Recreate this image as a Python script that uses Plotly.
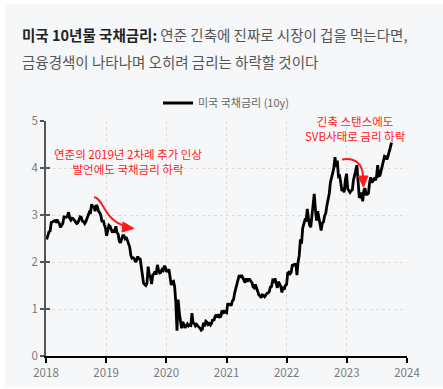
import pandas as pd
import plotly.graph_objects as go

# Weekly (Friday) US 10y Treasury yield, %
y2018 = [2.48, 2.55, 2.64, 2.66, 2.84, 2.85, 2.87, 2.88, 2.86, 2.90, 2.85, 2.82, 2.74,
         2.77, 2.82, 2.96, 2.96, 2.95, 2.97, 3.06, 2.93, 2.89, 2.93, 2.92, 2.89, 2.85,
         2.82, 2.83, 2.89, 2.96, 2.95, 2.87, 2.86, 2.82, 2.86, 2.94, 2.99, 3.06, 3.05,
         3.23, 3.16, 3.19, 3.08, 3.21, 3.18, 3.08, 3.05, 2.99, 2.85, 2.89, 2.79, 2.72]
y2019 = [2.56, 2.70, 2.78, 2.76, 2.69, 2.63, 2.66, 2.65, 2.76, 2.63, 2.59, 2.44, 2.41,
         2.50, 2.56, 2.56, 2.50, 2.53, 2.47, 2.39, 2.32, 2.14, 2.08, 2.09, 2.07, 2.00,
         2.04, 2.12, 2.05, 2.08, 1.86, 1.74, 1.55, 1.52, 1.50, 1.55, 1.90, 1.72, 1.68,
         1.53, 1.73, 1.75, 1.80, 1.73, 1.94, 1.83, 1.77, 1.78, 1.84, 1.82, 1.92, 1.88]
y2020 = [1.79, 1.82, 1.84, 1.68, 1.51, 1.58, 1.59, 1.47, 1.13, 0.54, 1.20, 0.92, 0.68,
         0.59, 0.73, 0.65, 0.60, 0.64, 0.68, 0.64, 0.66, 0.65, 0.91, 0.70, 0.69, 0.64,
         0.67, 0.64, 0.62, 0.59, 0.55, 0.57, 0.71, 0.63, 0.74, 0.72, 0.67, 0.69, 0.66,
         0.70, 0.78, 0.75, 0.84, 0.88, 0.82, 0.89, 0.83, 0.84, 0.97, 0.90, 0.95, 0.94]
y2021 = [0.92, 1.12, 1.09, 1.10, 1.07, 1.17, 1.20, 1.34, 1.46, 1.57, 1.63, 1.72, 1.67,
         1.72, 1.67, 1.59, 1.56, 1.65, 1.58, 1.63, 1.63, 1.59, 1.56, 1.47, 1.45, 1.52,
         1.43, 1.36, 1.30, 1.28, 1.24, 1.30, 1.29, 1.26, 1.31, 1.33, 1.34, 1.37, 1.47,
         1.48, 1.61, 1.59, 1.65, 1.55, 1.45, 1.58, 1.54, 1.48, 1.35, 1.48, 1.41, 1.50, 1.52]
y2022 = [1.76, 1.78, 1.75, 1.78, 1.93, 1.94, 1.93, 1.97, 1.72, 2.00, 2.14, 2.48,
         2.39, 2.72, 2.83, 2.90, 2.89, 3.13, 2.93, 2.78, 2.74, 2.94, 3.15, 3.45, 3.13,
         2.88, 3.08, 2.93, 2.78, 2.67, 2.83, 2.85, 2.98, 3.04, 3.20, 3.32, 3.45, 3.69, 3.83,
         3.89, 4.01, 4.23, 4.02, 4.16, 3.82, 3.83, 3.69, 3.51, 3.58, 3.48, 3.75, 3.88]
y2023 = [3.56, 3.51, 3.48, 3.52, 3.53, 3.74, 3.82, 3.95, 4.06, 3.70, 3.39, 3.38, 3.48,
         3.29, 3.52, 3.57, 3.44, 3.44, 3.46, 3.69, 3.80, 3.69, 3.75, 3.77, 3.74, 3.81,
         4.06, 3.83, 3.84, 3.96, 4.05, 4.16, 4.25, 4.24, 4.18, 4.26, 4.33, 4.44, 4.54]
years = [2018, 2019, 2020, 2021, 2022, 2023]
series = [y2018, y2019, y2020, y2021, y2022, y2023]

dates, vals = [], []
for yr, v in zip(years, series):
    d = pd.date_range(f"{yr}-01-01", f"{yr}-12-31", freq="W-FRI")[:len(v)]
    dates += list(d)
    vals += v

series_name = "미국 국채금리 (10y)"
x_ticks = ["2018-01-01", "2019-01-01", "2020-01-01", "2021-01-01",
           "2022-01-01", "2023-01-01", "2024-01-01"]
x_labels = ["2018", "2019", "2020", "2021", "2022", "2023", "2024"]
y_ticks = [0, 1, 2, 3, 4, 5]

W, H = 443, 389
L, R, T, B = 46, 36, 121, 33
PW, PH = W - L - R, H - T - B

def px(x):
    return (x - L) / PW

def py(y):
    return (H - B - y) / PH

FONT = "Noto Sans CJK KR"
RED = "#ff1a1a"

fig = go.Figure()
fig.add_trace(go.Scatter(x=dates, y=vals, mode="lines", name=series_name,
                         line=dict(color="#000000", width=2.8)))
# invisible trace on overlay axis for inner ticks
fig.add_trace(go.Scatter(x=dates[:1], y=vals[:1], yaxis="y2", mode="lines",
                         showlegend=False, hoverinfo="skip",
                         line=dict(color="rgba(0,0,0,0)")))

shapes = [
    dict(type="rect", xref="paper", yref="paper", x0=px(5), x1=px(443),
         y0=py(387), y1=py(4), fillcolor="#f6f7f9", line=dict(width=0), layer="below"),
]

def path(pts):
    s = "M {} {}".format(px(pts[0][0]), py(pts[0][1]))
    s += " C " + ", ".join("{} {}".format(px(a), py(b)) for a, b in pts[1:])
    return s

# arrow 1 (curve + head)
shapes.append(dict(type="path", xref="paper", yref="paper",
                   path=path([(94, 197), (104, 199), (104, 220), (125, 226)]),
                   line=dict(color=RED, width=2)))
shapes.append(dict(type="path", xref="paper", yref="paper",
                   path="M {} {} L {} {} L {} {} Z".format(px(134), py(228.5), px(123), py(222), px(122), py(232)),
                   fillcolor=RED, line=dict(color=RED, width=1)))
# arrow 2
shapes.append(dict(type="path", xref="paper", yref="paper",
                   path=path([(342, 159.5), (356, 157), (363, 165), (363, 177)]),
                   line=dict(color=RED, width=2)))
shapes.append(dict(type="path", xref="paper", yref="paper",
                   path="M {} {} L {} {} L {} {} Z".format(px(363.5), py(187), px(358), py(176), px(368), py(176)),
                   fillcolor=RED, line=dict(color=RED, width=1)))

annotations = [
    dict(xref="paper", yref="paper", x=px(128), y=py(161.5), xanchor="center", yanchor="middle",
         text="연준의 2019년 2차례 추가 인상<br>발언에도 국채금리 하락", showarrow=False,
         font=dict(family=FONT, size=11.5, color=RED), align="center"),
    dict(xref="paper", yref="paper", x=px(355), y=py(128), xanchor="center", yanchor="middle",
         text="긴축 스탠스에도<br>SVB사태로 금리 하락", showarrow=False,
         font=dict(family=FONT, size=11.5, color=RED), align="center"),
    dict(xref="paper", yref="paper", x=px(20), y=py(34), xanchor="left", yanchor="middle",
         text="<b><span style='color:#222222'>미국 10년물 국채금리:</span></b> 연준 긴축에 진짜로 시장이 겁을 먹는다면,",
         showarrow=False, align="left",
         font=dict(family=FONT, size=14.5, color="#555555")),
    dict(xref="paper", yref="paper", x=px(20), y=py(61), xanchor="left", yanchor="middle",
         text="금융경색이 나타나며 오히려 금리는 하락할 것이다",
         showarrow=False, align="left",
         font=dict(family=FONT, size=14.5, color="#555555")),
]

fig.update_layout(
    width=W, height=H,
    margin=dict(l=L, r=R, t=T, b=B, pad=0, autoexpand=False),
    paper_bgcolor="white", plot_bgcolor="rgba(0,0,0,0)",
    font=dict(family=FONT, color="#666666", size=11),
    showlegend=True,
    legend=dict(orientation="h", x=0.5, xanchor="center", y=py(103), yanchor="middle",
                bgcolor="rgba(0,0,0,0)", font=dict(family=FONT, size=11, color="#666666"),
                itemwidth=30),
    xaxis=dict(range=["2018-01-01", "2024-01-01"], tickvals=x_ticks, ticktext=x_labels,
               showgrid=True, gridcolor="#dddddd", griddash="dot", gridwidth=1,
               showline=True, linecolor="#000000", linewidth=1.5,
               ticks="outside", ticklen=5, tickcolor="#000000", tickwidth=1.5,
               tickfont=dict(family=FONT, size=11.5, color="#7a7a7a"), zeroline=False),
    yaxis=dict(range=[0, 5], tickvals=y_ticks, showgrid=True, gridcolor="#dddddd",
               griddash="dot", gridwidth=1, showline=True, linecolor="#555555", linewidth=1.5,
               ticks="outside", ticklen=4, tickcolor="#555555", tickwidth=1.5,
               tickfont=dict(family=FONT, size=11.5, color="#7a7a7a"), zeroline=False),
    yaxis2=dict(range=[0, 5], tickvals=y_ticks, overlaying="y", side="left",
                showgrid=False, showline=False, ticks="inside", ticklen=4,
                tickcolor="#555555", tickwidth=1.5, showticklabels=False, zeroline=False),
    shapes=shapes, annotations=annotations,
)

fig.write_html("out.html", config={"displayModeBar": False},
               post_script="document.body.style.margin='0';")
